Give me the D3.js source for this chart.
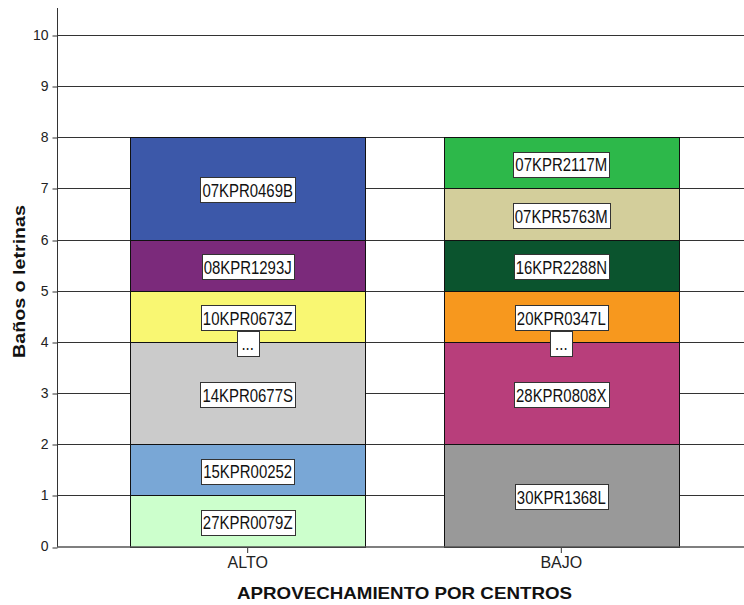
<!DOCTYPE html>
<html><head><meta charset="utf-8">
<script src="https://cdn.jsdelivr.net/npm/d3@7"></script>
<style>
html,body{margin:0;padding:0;background:#fff;}
svg{display:block;font-family:"Liberation Sans",Arial,sans-serif;}
</style></head>
<body><svg id="c" width="744" height="605"></svg>
<script>
const categories = ["ALTO", "BAJO"];
const altoCodes  = ["27KPR0079Z","15KPR00252","14KPR0677S","10KPR0673Z","08KPR1293J","07KPR0469B"];
const altoValues = [1, 1, 2, 1, 1, 2];
const altoColors = ["#ccffcc","#79a7d6","#cbcbcb","#f9f772","#7b2a7b","#3c58a9"];
const bajoCodes  = ["30KPR1368L","28KPR0808X","20KPR0347L","16KPR2288N","07KPR5763M","07KPR2117M"];
const bajoValues = [2, 2, 1, 1, 1, 1];
const bajoColors = ["#999999","#b83e7b","#f7981e","#0b542e","#d3ce9b","#2db84a"];
const ellipsisAt = [4, 4];
const yTicks = [0,1,2,3,4,5,6,7,8,9,10];
const yTitle = "Baños o letrinas";
const xTitle = "APROVECHAMIENTO POR CENTROS";

const svg = d3.select("#c");
const x = d3.scaleBand().domain(categories).range([57, 752]).paddingInner(0.25).paddingOuter(0.233);
const y = d3.scaleLinear().domain([0, 10]).range([546.5, 35]);

// gridlines
svg.append("g").selectAll("line").data(yTicks.filter(d => d > 0)).join("line")
  .attr("x1", 57).attr("x2", 744)
  .attr("y1", d => Math.round(y(d)) + 0.5).attr("y2", d => Math.round(y(d)) + 0.5)
  .attr("stroke", "#333").attr("stroke-width", 1);

const groups = [
  {cat: "ALTO", codes: altoCodes, values: altoValues, colors: altoColors},
  {cat: "BAJO", codes: bajoCodes, values: bajoValues, colors: bajoColors}
];

const segs = [];
groups.forEach(g => {
  let acc = 0;
  g.values.forEach((v, i) => {
    segs.push({cat: g.cat, code: g.codes[i], y0: acc, y1: acc + v, color: g.colors[i]});
    acc += v;
  });
});

svg.append("g").selectAll("rect").data(segs).join("rect")
  .attr("x", d => Math.round(x(d.cat)) + 0.5)
  .attr("width", Math.round(x.bandwidth()))
  .attr("y", d => Math.round(y(d.y1)) + 0.5)
  .attr("height", d => Math.round(y(d.y0)) - Math.round(y(d.y1)))
  .attr("fill", d => d.color)
  .attr("stroke", "#111").attr("stroke-width", 1);

// axes
const yAxis = svg.append("g").attr("transform", "translate(57.5,0)")
  .call(d3.axisLeft(y).tickValues(yTicks).tickSize(5).tickPadding(4).tickFormat(d3.format("d")));
yAxis.select(".domain").remove();
yAxis.selectAll("line").attr("stroke", "#333").attr("transform", d => `translate(0,${Math.round(y(d)) + 0.5 - y(d)})`);
yAxis.selectAll("text").attr("font-size", 14).attr("fill", "#222")
  .attr("font-family", "'Liberation Sans',Arial,sans-serif");

svg.append("line").attr("x1", 57.5).attr("x2", 57.5).attr("y1", 8).attr("y2", 547)
  .attr("stroke", "#333");

const xAxis = svg.append("g").attr("transform", "translate(0,547)")
  .call(d3.axisBottom(x).tickSize(6).tickPadding(4));
xAxis.select(".domain").remove();
xAxis.selectAll("line").attr("stroke", "#333");
xAxis.selectAll("text").attr("font-size", 16).attr("fill", "#222")
  .attr("font-family", "'Liberation Sans',Arial,sans-serif");
svg.append("line").attr("x1", 57).attr("x2", 744).attr("y1", 547).attr("y2", 547)
  .attr("stroke", "#555").attr("stroke-width", 1.5);

// labels
function addLabel(cx, cy, txt) {
  const g = svg.append("g");
  const r = g.append("rect");
  const t = g.append("text").attr("x", cx).attr("y", cy).attr("text-anchor", "middle")
    .attr("dy", "0.36em").attr("font-size", 18).attr("fill", "#111").text(txt);
  const w0 = t.node().getComputedTextLength();
  const w = w0 * 0.83;
  t.attr("textLength", w).attr("lengthAdjust", "spacingAndGlyphs");
  const bw = Math.max(22, Math.round(w + 4));
  r.attr("x", Math.round(cx - bw / 2) + 0.5).attr("y", Math.round(cy - 13) + 0.5)
    .attr("width", bw).attr("height", 25)
    .attr("fill", "#fff").attr("stroke", "#333").attr("stroke-width", 1);
}
segs.forEach(d => addLabel(x(d.cat) + x.bandwidth() / 2, y((d.y0 + d.y1) / 2) + 2, d.code));
categories.forEach((c, i) => addLabel(x(c) + x.bandwidth() / 2, y(ellipsisAt[i]) + 2, "..."));

// titles
svg.append("text").attr("x", 404.5).attr("y", 598.5).attr("text-anchor", "middle")
  .attr("font-size", 16.5).attr("font-weight", "bold").attr("fill", "#111")
  .attr("textLength", 335).attr("lengthAdjust", "spacingAndGlyphs").text(xTitle);
svg.append("text").attr("transform", "translate(25,281.5) rotate(-90)").attr("text-anchor", "middle")
  .attr("font-size", 16.5).attr("font-weight", "bold").attr("fill", "#111")
  .attr("textLength", 153).attr("lengthAdjust", "spacingAndGlyphs").text(yTitle);
</script></body></html>
